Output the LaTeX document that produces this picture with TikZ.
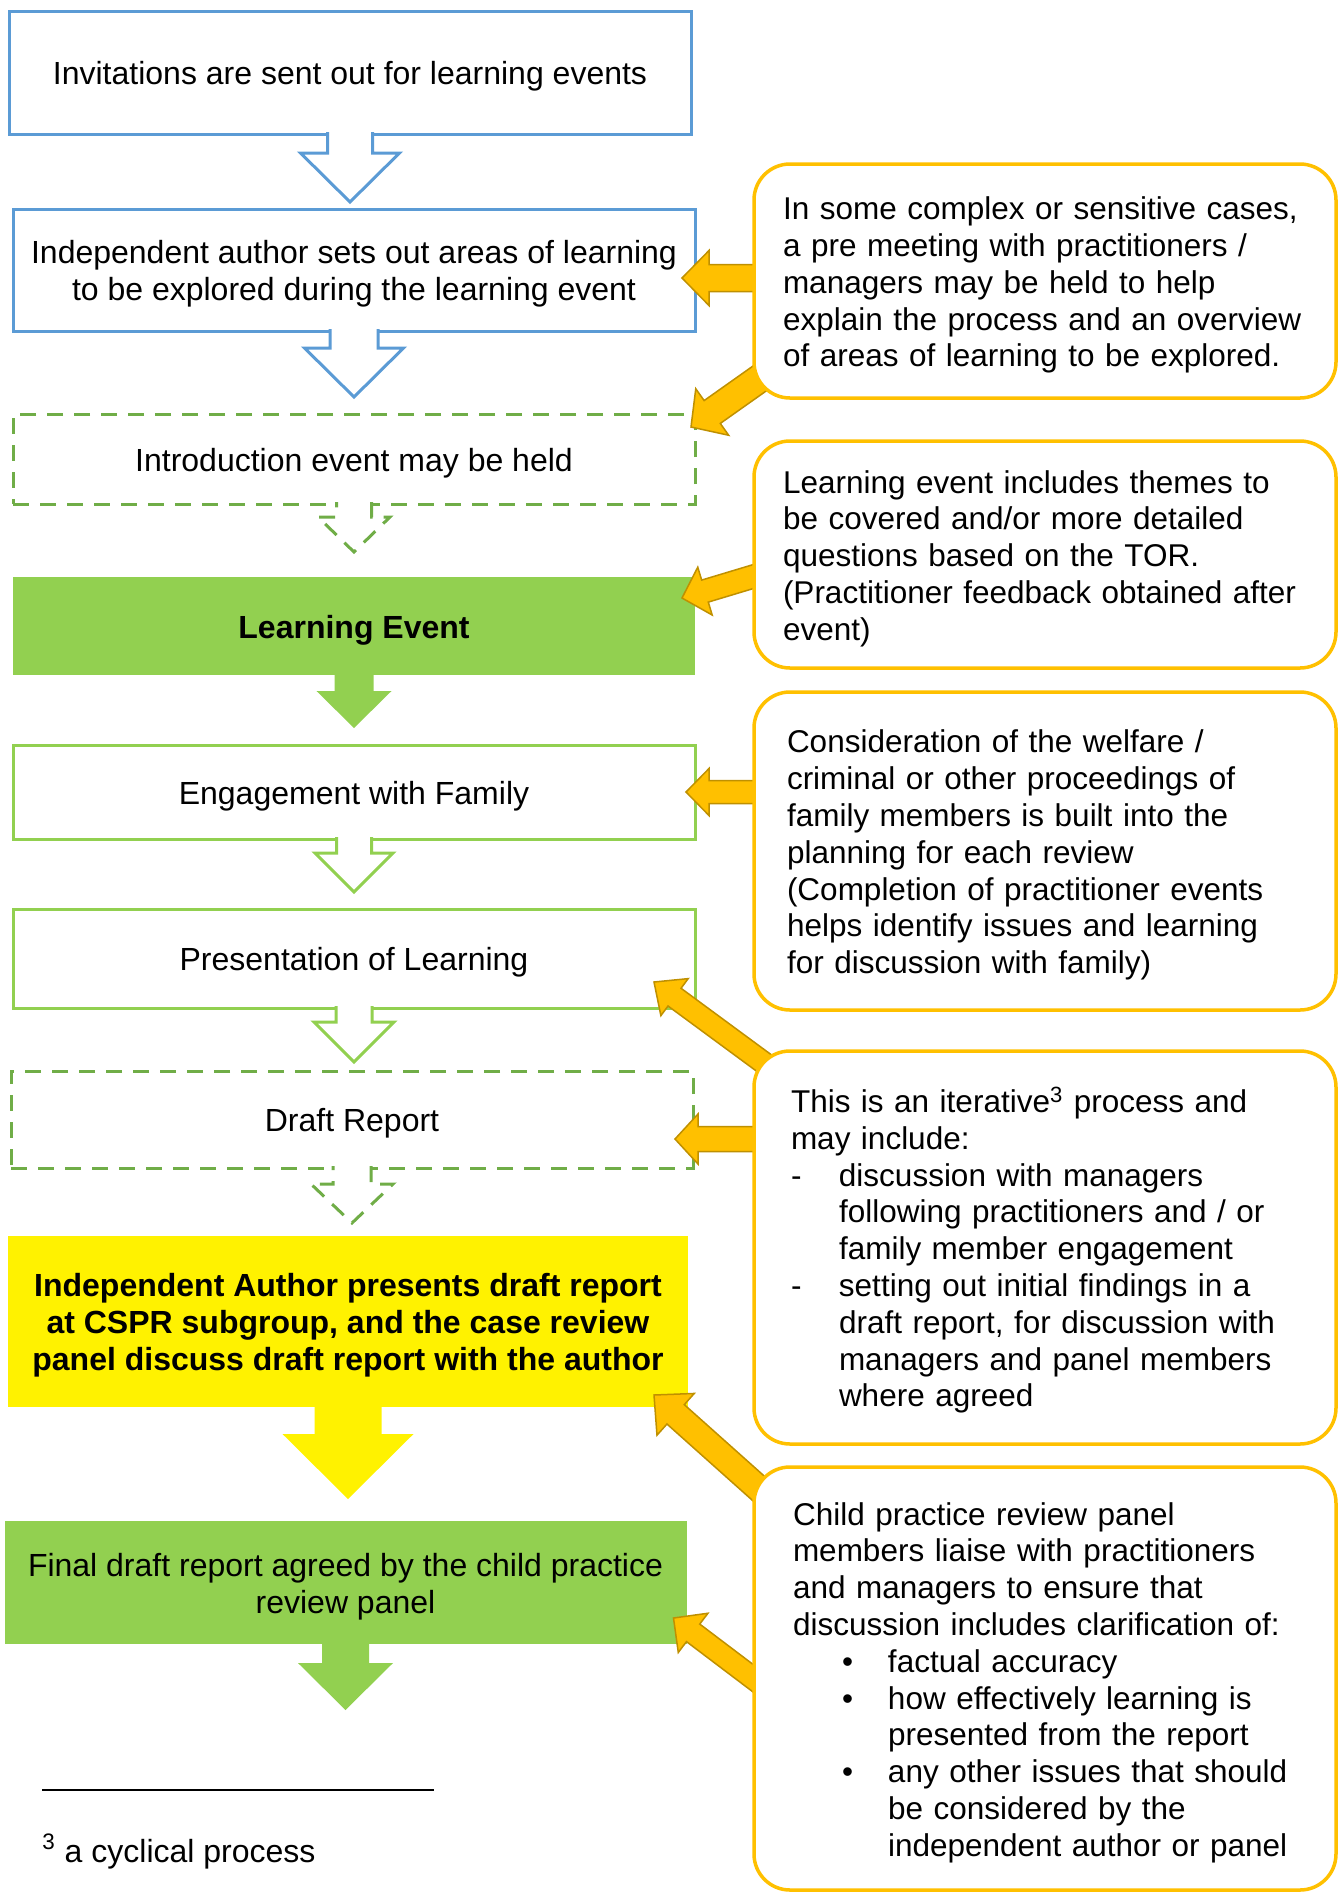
\documentclass[tikz,border=0pt]{standalone}
\usepackage{fontspec}
\setmainfont{Liberation Sans}
\usetikzlibrary{positioning, calc}

\definecolor{boxblue}{HTML}{5B9BD5}
\definecolor{boxgreen}{HTML}{92D050}
\definecolor{dashgreen}{HTML}{70AD47}
\definecolor{notegold}{HTML}{FFC000}
\definecolor{notegolddark}{HTML}{BF9000}

\pgfdeclarelayer{back}
\pgfdeclarelayer{mid}
\pgfsetlayers{back,mid,main}

\newcommand{\boxfont}{\fontsize{16}{18.4}\selectfont}
\newcommand{\notefont}{\fontsize{15.75}{18.4}\selectfont}
\newcommand{\topstrut}{\rule{0pt}{15.5pt}}
\newcommand{\dashitem}{\makebox[24pt][l]{-}}
\newcommand{\dashhang}{\hspace*{24pt}}
\newcommand{\bulletitem}{\hspace*{24.5pt}\makebox[23pt][l]{\textbullet}}
\newcommand{\bullethang}{\hspace*{47.5pt}}

% block arrow: [style]{from}{tip}{shaft half}{head half}{head length}
\newcommand{\blockarrow}[6][]{%
  \coordinate (ba-s) at (#2);
  \coordinate (ba-t) at (#3);
  \coordinate (ba-h) at ($(ba-t)!#6!(ba-s)$);
  \path[#1, draw=none] ($(ba-s)!#4!90:(ba-t)$) -- ($(ba-h)!#4!90:(ba-t)$) -- ($(ba-h)!#5!90:(ba-t)$)
    -- (ba-t) -- ($(ba-h)!#5!-90:(ba-t)$) -- ($(ba-h)!#4!-90:(ba-t)$) -- ($(ba-s)!#4!-90:(ba-t)$) -- cycle;
  \path[#1, fill=none] ($(ba-s)!#4!90:(ba-t)$) -- ($(ba-h)!#4!90:(ba-t)$) -- ($(ba-h)!#5!90:(ba-t)$)
    -- (ba-t) -- ($(ba-h)!#5!-90:(ba-t)$) -- ($(ba-h)!#4!-90:(ba-t)$) -- ($(ba-s)!#4!-90:(ba-t)$);
}

\tikzstyle{base} = [rectangle, minimum width=341pt, text width=331pt, align=flush center, inner sep=5pt, outer sep=0pt,
  font=\boxfont, execute at begin node=\topstrut]
\tikzstyle{stepblue} = [base, draw=boxblue, line width=1.5pt, fill=white]
\tikzstyle{stepgreen} = [base, draw=boxgreen, line width=1.5pt, fill=white]
\tikzstyle{stepdashed} = [base, draw=dashgreen, line width=1.5pt, fill=white, dash pattern=on 8pt off 5.5pt]
\tikzstyle{stepfilled} = [base, fill=boxgreen]
\tikzstyle{stepyellow} = [base, fill=yellow]
\tikzstyle{note} = [rectangle, rounded corners=18pt, draw=notegold, line width=1.75pt, fill=white,
  minimum width=291pt, align=left, inner sep=0pt, outer sep=0pt, font=\notefont, execute at begin node=\topstrut]

\tikzstyle{hollowblue} = [draw=boxblue, line width=1.5pt, fill=white]
\tikzstyle{hollowgreen} = [draw=boxgreen, line width=1.5pt, fill=white]
\tikzstyle{hollowdash} = [draw=dashgreen, line width=1.5pt, fill=white, dash pattern=on 8pt off 5.5pt]
\tikzstyle{solidgreen} = [fill=boxgreen]
\tikzstyle{solidyellow} = [fill=yellow]
\tikzstyle{pointer} = [fill=notegold, draw=notegolddark, line width=0.75pt]

\begin{document}
\begin{tikzpicture}[x=0.5pt, y=-0.5pt]
\useasboundingbox (0,0) rectangle (1340,1892);

\begin{pgfonlayer}{back}
\node (INVITATIONS) [stepblue, minimum height=61.5pt] at (350,72.5) {Invitations are sent out for learning events};
\node (AUTHOR_AREAS) [stepblue, minimum height=61pt, below=37.5pt of INVITATIONS, xshift=2pt] {Independent author sets out areas of learning\\to be explored during the learning event};
\node (INTRO_EVENT) [stepdashed, minimum height=45pt, below=41.5pt of AUTHOR_AREAS] {Introduction event may be held};
\node (LEARNING_EVENT) [stepfilled, minimum height=49pt, below=36.5pt of INTRO_EVENT] {\textbf{Learning Event}};
\node (FAMILY) [stepgreen, minimum height=47pt, below=35pt of LEARNING_EVENT] {Engagement with Family};
\node (PRESENTATION) [stepgreen, minimum height=49.5pt, below=35pt of FAMILY] {Presentation of Learning};
\node (DRAFT_REPORT) [stepdashed, minimum height=48.5pt, below=31.5pt of PRESENTATION, xshift=-1pt] {Draft Report};
\node (CSPR_PANEL) [stepyellow, minimum width=340pt, text width=330pt, minimum height=85.5pt, below=34pt of DRAFT_REPORT, xshift=-2pt] {\textbf{Independent Author presents draft report}\\\textbf{at CSPR subgroup, and the case review}\\\textbf{panel discuss draft report with the author}};
\node (FINAL_DRAFT) [stepfilled, minimum height=61.5pt, below=57pt of CSPR_PANEL, xshift=-1.25pt] {Final draft report agreed by the child practice\\review panel};
\coordinate (FLOW_END) at ($(FINAL_DRAFT.south)+(0,66)$);

\blockarrow[hollowblue]{$(INVITATIONS.south)+(0,-2)$}{$(INVITATIONS.south |- AUTHOR_AREAS.north)+(0,-7)$}{11.25pt}{24.75pt}{24.5pt}
\blockarrow[hollowblue]{$(AUTHOR_AREAS.south)+(0,-2)$}{$(AUTHOR_AREAS.south |- INTRO_EVENT.north)+(0,-17)$}{12pt}{24.75pt}{24.5pt}
\blockarrow[hollowdash]{$(INTRO_EVENT.south)+(0,-2)$}{$(INTRO_EVENT.south |- LEARNING_EVENT.north)+(0,-25)$}{8.75pt}{18pt}{17.5pt}
\blockarrow[solidgreen]{$(LEARNING_EVENT.south)+(0,-2)$}{$(LEARNING_EVENT.south |- FAMILY.north)+(0,-17)$}{9.75pt}{18.75pt}{18.5pt}
\blockarrow[hollowgreen]{$(FAMILY.south)+(0,-2)$}{$(FAMILY.south |- PRESENTATION.north)+(0,-17)$}{8.75pt}{19.5pt}{19.5pt}
\blockarrow[hollowgreen]{$(PRESENTATION.south)+(0,-2)$}{$(PRESENTATION.south |- DRAFT_REPORT.north)+(0,-9)$}{9pt}{20pt}{20pt}
\blockarrow[hollowdash]{$(DRAFT_REPORT.south)+(0,-2)$}{$(DRAFT_REPORT.south |- CSPR_PANEL.north)+(0,-13)$}{9.5pt}{20.5pt}{19.5pt}
\blockarrow[solidyellow]{$(CSPR_PANEL.south)+(0,-2)$}{$(CSPR_PANEL.south |- FINAL_DRAFT.north)+(0,-22)$}{16.75pt}{32.75pt}{32.5pt}
\blockarrow[solidgreen]{$(FINAL_DRAFT.south)+(0,-2)$}{FLOW_END}{11.75pt}{23.75pt}{23.5pt}
\end{pgfonlayer}

\node (NOTE_PRE_MEETING) [note, text width=262pt, minimum height=117pt, right=29.5pt of AUTHOR_AREAS, yshift=-5.5pt]
  {In some complex or sensitive cases,\\a pre meeting with practitioners /\\managers may be held to help\\explain the process and an overview\\of areas of learning to be explored.};
\node (NOTE_THEMES) [note, text width=262pt, minimum height=113.5pt, below=21.5pt of NOTE_PRE_MEETING]
  {Learning event includes themes to\\be covered and/or more detailed\\questions based on the TOR.\\(Practitioner feedback obtained after\\event)};
\node (NOTE_FAMILY) [note, text width=258pt, minimum height=159pt, below=12pt of NOTE_THEMES]
  {Consideration of the welfare /\\criminal or other proceedings of\\family members is built into the\\planning for each review\\(Completion of practitioner events\\helps identify issues and learning\\for discussion with family)};
\node (NOTE_ITERATIVE) [note, text width=254pt, minimum height=196.5pt, below=20.5pt of NOTE_FAMILY]
  {This is an iterative\textsuperscript{3} process and\\may include:\\
   \dashitem discussion with managers\\\dashhang following practitioners and / or\\\dashhang family member engagement\\
   \dashitem setting out initial findings in a\\\dashhang draft report, for discussion with\\\dashhang managers and panel members\\\dashhang where agreed};
\node (NOTE_PANEL) [note, text width=252pt, minimum height=211.5pt, below=11.5pt of NOTE_ITERATIVE]
  {Child practice review panel\\members liaise with practitioners\\and managers to ensure that\\discussion includes clarification of:\\
   \bulletitem factual accuracy\\\bulletitem how effectively learning is\\\bullethang presented from the report\\
   \bulletitem any other issues that should\\\bullethang be considered by the\\\bullethang independent author or panel};

\begin{pgfonlayer}{mid}
\blockarrow[pointer]{$(NOTE_PRE_MEETING.west)+(16,-3)$}{$(AUTHOR_AREAS.east)+(-13,8)$}{6.75pt}{13.75pt}{13.5pt}
\blockarrow[pointer]{$(NOTE_PRE_MEETING.south west)+(19,-29)$}{$(INTRO_EVENT.north east)+(-4,13)$}{7pt}{14.25pt}{13pt}
\blockarrow[pointer]{$(NOTE_THEMES.west)+(21,15.5)$}{$(LEARNING_EVENT.east)+(-13,-28)$}{5.75pt}{12.5pt}{12pt}
\blockarrow[pointer]{$(NOTE_FAMILY.west)+(16,-59)$}{$(FAMILY.east)+(-9,0)$}{5.75pt}{11.75pt}{11.5pt}
\blockarrow[pointer]{$(NOTE_ITERATIVE.north west)+(29,26)$}{$(PRESENTATION.south east)+(-41,-26)$}{5.5pt}{11.5pt}{12.75pt}
\blockarrow[pointer]{$(NOTE_ITERATIVE.west)+(16,-108.5)$}{$(DRAFT_REPORT.east)+(-18,19.5)$}{6.25pt}{12.5pt}{11.5pt}
\blockarrow[pointer]{$(NOTE_PANEL.north west)+(31,45)$}{$(CSPR_PANEL.south east)+(-34,-12)$}{6.5pt}{14pt}{14.5pt}
\blockarrow[pointer]{$(NOTE_PANEL.west)+(16,12.5)$}{$(FINAL_DRAFT.east)+(-13,35.5)$}{5.5pt}{12.3pt}{12.3pt}
\end{pgfonlayer}

\node (FOOTNOTE_RULE) [anchor=west, inner sep=0pt] at (42,1790) {\rule{196pt}{0.75pt}};
\node (FOOTNOTE) [anchor=base west, inner sep=0pt, font=\boxfont] at (42,1862) {\textsuperscript{3} a cyclical process};

\end{tikzpicture}
\end{document}
